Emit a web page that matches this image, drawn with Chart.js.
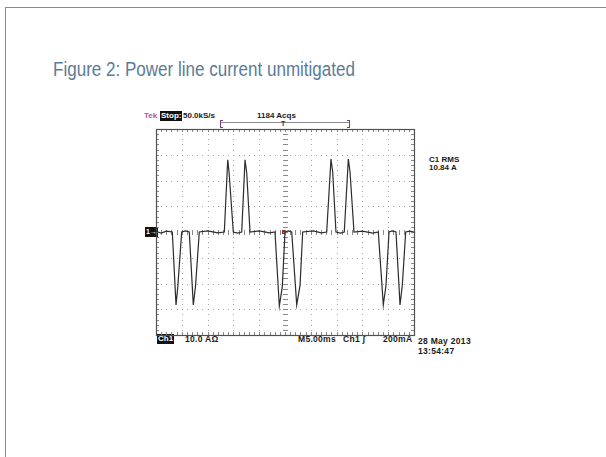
<!DOCTYPE html>
<html>
<head>
<meta charset="utf-8">
<script src="https://cdn.jsdelivr.net/npm/chart.js@4/dist/chart.umd.min.js"></script>
<style>
  html, body { margin:0; padding:0; background:#fff; }
  body { width:606px; height:457px; overflow:hidden; position:relative; }
  #frame { position:absolute; left:5px; top:7px; width:700px; height:600px; border:1px solid #8a8a8a; }
  #title { position:absolute; left:53px; top:57px; white-space:nowrap; color:#5a7b98;
           font-family:"Liberation Sans Narrow","Liberation Sans",Arial,sans-serif; font-size:20px; line-height:24px;
           transform-origin:0 0; }
  .s { position:absolute; white-space:nowrap; font-family:"Liberation Sans",Arial,sans-serif; font-weight:bold;
       font-size:8px; line-height:10px; color:#1a1a1a; }
  .b { font-size:8.5px; letter-spacing:0.3px; }
  .box { background:#111; color:#fff; padding:0 1px; }
  #wrap { position:absolute; left:150px; top:123px; width:270px; height:218px; }
  .ln { position:absolute; }
</style>
</head>
<body>
<div id="frame"></div>
<div id="title">Figure 2: Power line current unmitigated</div>

<div class="s" style="left:144px;top:111px;color:#c0509a;">Tek</div>
<div class="s box" style="left:160px;top:111px;">Stop:</div>
<div class="s" style="left:183px;top:111px;">50.0kS/s</div>
<div class="s" style="left:257px;top:111px;">1184 Acqs</div>

<div class="ln" style="left:220px;top:122px;width:129px;height:0;border-top:1px solid #8c8c8c;"></div>
<div class="ln" style="left:220px;top:120px;width:2px;height:6px;border-left:1px solid #7a3a8a;border-top:1px solid #7a3a8a;border-bottom:1px solid #7a3a8a;"></div>
<div class="ln" style="left:347px;top:120px;width:2px;height:6px;border-right:1px solid #7a3a8a;border-top:1px solid #7a3a8a;border-bottom:1px solid #7a3a8a;"></div>
<div class="s" style="left:281px;top:120px;font-size:7px;line-height:8px;color:#333;">T</div>

<div class="s" style="left:429px;top:155px;">C1 RMS</div>
<div class="s" style="left:429px;top:163px;">10.84 A</div>

<div class="s box" style="left:145px;top:227px;font-size:7px;">1→</div>
<div class="ln" style="left:282px;top:230px;width:4px;height:4px;background:#9a2a3a;"></div>
<div class="s" style="left:409px;top:227px;color:#9a2a3a;">←</div>

<div class="s box" style="left:157px;top:334px;">Ch1</div>
<div class="s b" style="left:185px;top:334px;">10.0 AΩ</div>
<div class="s b" style="left:298px;top:334px;">M5.00ms</div>
<div class="s b" style="left:343px;top:334px;">Ch1 ∫</div>
<div class="s b" style="left:383px;top:334px;">200mA</div>
<div class="s b" style="left:418px;top:336px;">28 May 2013</div>
<div class="s b" style="left:418px;top:346px;">13:54:47</div>

<div id="wrap"><canvas id="c"></canvas></div>

<script>
// ---- data (time in ms, current in A) ----
const timeMs = [0, 1.0, 2.0, 3.16, 3.88, 4.22, 4.98, 5.7, 6.45, 7.23, 7.66, 8.39,
  10.0, 12.0, 13.24, 13.90, 14.15, 14.98, 15.8, 16.61, 17.25, 17.58, 18.22,
  20.0, 22.0, 23.06, 23.90, 24.48, 25.00, 25.7, 26.30, 27.27, 27.91, 28.43,
  30.5, 32.0, 33.08, 33.91, 34.24, 34.88, 35.7, 36.49, 37.27, 37.60, 38.37,
  40.0, 42.0, 43.08, 44.05, 44.57, 45.16, 45.8, 46.51, 47.29, 47.73, 48.39, 49.2, 50];
const currentA = [0.3, -0.4, 0.3, 0, -28.3, -21.4, 0, 0.4, 0, -28.3, -21.0, 0,
  0.4, -0.3, 0, 28.0, 23.4, 0, -0.4, 0, 28.0, 23.0, 0,
  0.4, -0.3, 0, -28.8, -21.2, 0, 0.4, 0, -28.3, -20.8, 0,
  0.4, -0.3, 0, 28.3, 23.4, 0, -0.4, 0, 28.3, 23.4, 0,
  0.3, -0.4, 0, -28.3, -20.8, 0, 0.4, 0, -28.3, -20.8, 0, 0.3, 0];

const X_MIN = 0, X_MAX = 50, X_DIV = 5;      // 5 ms / div, 10 divisions
const Y_MIN = -40, Y_MAX = 40, Y_DIV = 10;   // 10 A / div, 8 divisions

const scopeGrid = {
  id: 'scopeGrid',
  beforeDatasetsDraw(chart) {
    const { ctx, chartArea: a, scales: { x, y } } = chart;
    ctx.save();
    const xm = X_DIV / 5, ym = Y_DIV / 5;
    ctx.fillStyle = '#a4a4a4';
    for (let t = X_MIN + X_DIV; t < X_MAX; t += X_DIV) {
      const px = Math.round(x.getPixelForValue(t));
      for (let v = Y_MIN + ym; v < Y_MAX; v += ym) ctx.fillRect(px, Math.round(y.getPixelForValue(v)), 1, 1);
    }
    for (let v = Y_MIN + Y_DIV; v < Y_MAX; v += Y_DIV) {
      const py = Math.round(y.getPixelForValue(v));
      for (let t = X_MIN + xm; t < X_MAX; t += xm) ctx.fillRect(Math.round(x.getPixelForValue(t)), py, 1, 1);
    }
    // centre cross ticks
    const cx = Math.round(x.getPixelForValue((X_MIN + X_MAX) / 2));
    const cy = Math.round(y.getPixelForValue((Y_MIN + Y_MAX) / 2));
    ctx.fillStyle = '#8a8a8a';
    for (let v = Y_MIN + ym; v < Y_MAX; v += ym) ctx.fillRect(cx - 2, Math.round(y.getPixelForValue(v)), 5, 1);
    for (let t = X_MIN + xm; t < X_MAX; t += xm) ctx.fillRect(Math.round(x.getPixelForValue(t)), cy - 2, 1, 5);
    // edge ticks
    for (let t = X_MIN + xm; t < X_MAX; t += xm) {
      const px = Math.round(x.getPixelForValue(t));
      ctx.fillRect(px, Math.round(a.top), 1, 3);
      ctx.fillRect(px, Math.round(a.bottom) - 3, 1, 3);
    }
    for (let v = Y_MIN + ym; v < Y_MAX; v += ym) {
      const py = Math.round(y.getPixelForValue(v));
      ctx.fillRect(Math.round(a.left), py, 3, 1);
      ctx.fillRect(Math.round(a.right) - 3, py, 3, 1);
    }
    ctx.strokeStyle = '#505050';
    ctx.lineWidth = 1.2;
    ctx.strokeRect(Math.round(a.left) + 0.5, Math.round(a.top) + 0.5,
                   Math.round(a.right - a.left), Math.round(a.bottom - a.top));
    ctx.restore();
  }
};

new Chart(document.getElementById('c'), {
  type: 'line',
  data: {
    datasets: [{
      label: 'Ch1 current (A)',
      data: timeMs.map((t, i) => ({ x: t, y: currentA[i] })),
      borderColor: '#2c2c2c',
      borderWidth: 1.2,
      pointRadius: 0,
      tension: 0,
      fill: false
    }]
  },
  options: {
    responsive: true,
    maintainAspectRatio: false,
    animation: false,
    layout: { padding: { left: 6, right: 6, top: 6, bottom: 6 } },
    plugins: { legend: { display: false }, tooltip: { enabled: false } },
    scales: {
      x: { type: 'linear', min: X_MIN, max: X_MAX, display: false },
      y: { type: 'linear', min: Y_MIN, max: Y_MAX, display: false }
    }
  },
  plugins: [scopeGrid]
});

// fit the narrow title to its width in the reference
const ti = document.getElementById('title');
const w = ti.getBoundingClientRect().width;
ti.style.transform = 'scaleX(' + (302 / w) + ')';
</script>
</body>
</html>
